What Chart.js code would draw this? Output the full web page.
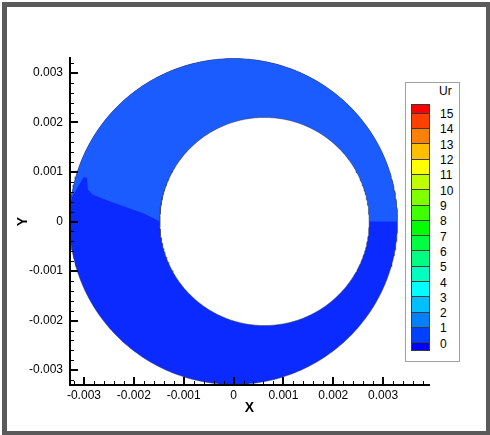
<!DOCTYPE html>
<html>
<head>
<meta charset="utf-8">
<script src="https://cdn.jsdelivr.net/npm/chart.js@4.4.1/dist/chart.umd.min.js"></script>
<style>
  body { margin: 0; background: #fff; font-family: "Liberation Sans", Arial, sans-serif; }
  #marco { position: relative; width: 490px; height: 435px; overflow: hidden; }
  #borde { position: absolute; left: 2px; top: 2px; width: 479px; height: 424px; border: 5px solid #5a5a5a; pointer-events: none; }
  #leyenda { position: absolute; left: 405px; top: 82px; width: 53px; height: 278px; border: 1px solid #a0a0a0; background: #fff; }
  .caja { position: absolute; left: 411px; width: 19px; box-sizing: border-box; border: 1px solid #3a3a3a; }
  .etiqueta { position: absolute; left: 440px; height: 14px; line-height: 14px; font-size: 12px; color: #000; }
</style>
</head>
<body>
<div id="marco">
  <canvas id="chart-anillo"></canvas>
  <div id="leyenda"></div>
  <div id="borde"></div>
</div>
<script>
// Datos: contorno de Ur sobre un anillo excentrico
const nivelesUr = [0, 1, 2, 3, 4, 5, 6, 7, 8, 9, 10, 11, 12, 13, 14, 15];
const coloresNivel = [
  "#0000ff", "#0040ff", "#0080ff", "#00bfff", "#00ffff", "#00ffbf",
  "#00ff80", "#00ff40", "#00ff00", "#40ff00", "#80ff00", "#bfff00",
  "#ffff00", "#ffbf00", "#ff8000", "#ff4000", "#ff0000",
];
const ticksX = [-0.003, -0.002, -0.001, 0, 0.001, 0.002, 0.003];
const ticksY = [-0.003, -0.002, -0.001, 0, 0.001, 0.002, 0.003];

// circulos: [centro x, centro y, radio]
const circuloExterior = [0.0, 0.0, 0.00329];
const circuloInterior = [0.00062, 0.0, 0.0021];

// frontera entre las dos zonas de color (del borde exterior al interior)
const fronteraX = [-0.00326, -0.00304, -0.0030, -0.00294, -0.00292, -0.00282, -0.00246, -0.00212, -0.0018, -0.00148];
const fronteraY = [0.00046, 0.00084, 0.0009, 0.00088, 0.00064, 0.00054, 0.0004, 0.00028, 0.00016, 0.0];

const colorZonaBaja = "#0a2aff";
const colorZonaAlta = "#1a5cff";

const arco = (c, a0, a1) => {
  const pts = [];
  const n = Math.max(2, Math.ceil(Math.abs(a1 - a0) / (Math.PI / 180)));
  for (let i = 0; i <= n; i++) {
    const a = a0 + ((a1 - a0) * i) / n;
    pts.push({ x: c[0] + c[2] * Math.cos(a), y: c[1] + c[2] * Math.sin(a) });
  }
  return pts;
};

const anguloDe = (c, x, y) => Math.atan2(y - c[1], x - c[0]);

// zona superior (color mas claro)
const ultimo = fronteraX.length - 1;
const zonaAlta = [
  ...arco(circuloExterior, 0, anguloDe(circuloExterior, fronteraX[0], fronteraY[0])),
  ...fronteraX.map((x, i) => ({ x, y: fronteraY[i] })),
  ...arco(circuloInterior, anguloDe(circuloInterior, fronteraX[ultimo], fronteraY[ultimo]), 0),
];

const discoExterior = arco(circuloExterior, 0, 2 * Math.PI);
const discoInterior = arco(circuloInterior, 0, 2 * Math.PI);

// marcas hacia dentro (mayores cada 0.001, menores cada 0.0002)
const marcasInternas = {
  id: "marcasInternas",
  afterDatasetsDraw(chart) {
    const ctx = chart.ctx;
    const { left, bottom } = chart.chartArea;
    const sx = chart.scales.x;
    const sy = chart.scales.y;
    const paso = 0.0002;
    ctx.save();
    ctx.strokeStyle = "#000";
    for (let k = Math.ceil(sx.min / paso - 1e-6); k <= Math.floor(sx.max / paso + 1e-6); k++) {
      const mayor = k % 5 === 0;
      const px = Math.round(sx.getPixelForValue(k * paso)) + (mayor ? 0 : 0.5);
      ctx.lineWidth = mayor ? 2 : 1;
      ctx.beginPath();
      ctx.moveTo(px, bottom);
      ctx.lineTo(px, bottom - (mayor ? 8 : 4));
      ctx.stroke();
    }
    for (let k = Math.ceil(sy.min / paso - 1e-6); k <= Math.floor(sy.max / paso + 1e-6); k++) {
      const mayor = k % 5 === 0;
      const py = Math.round(sy.getPixelForValue(k * paso)) + (mayor ? 0 : 0.5);
      ctx.lineWidth = mayor ? 2 : 1;
      ctx.beginPath();
      ctx.moveTo(left, py);
      ctx.lineTo(left + (mayor ? 8 : 4), py);
      ctx.stroke();
    }
    ctx.restore();
  },
};

Chart.defaults.font.family = '"Liberation Sans", Arial, sans-serif';
Chart.defaults.font.size = 12;
Chart.defaults.color = "#000";

const etiqueta = (v) => String(Number(v.toFixed(4)));

const configuracion = {
  type: "scatter",
  data: {
    datasets: [
      {
        data: discoExterior,
        showLine: true,
        pointRadius: 0,
        borderColor: "rgba(60,60,60,0.45)",
        borderWidth: 1,
        fill: false,
      },
      {
        data: discoInterior,
        showLine: true,
        pointRadius: 0,
        borderColor: "rgba(60,60,60,0.5)",
        borderWidth: 1,
        backgroundColor: "#ffffff",
        fill: "shape",
      },
      {
        data: zonaAlta,
        showLine: true,
        pointRadius: 0,
        borderWidth: 0,
        borderColor: colorZonaAlta,
        backgroundColor: colorZonaAlta,
        fill: "shape",
      },
      {
        data: discoExterior,
        showLine: true,
        pointRadius: 0,
        borderWidth: 0,
        borderColor: colorZonaBaja,
        backgroundColor: colorZonaBaja,
        fill: "shape",
      },
    ],
  },
  options: {
    responsive: false,
    animation: false,
    layout: { padding: { left: 0, top: 58, right: 61, bottom: 0 } },
    plugins: { legend: { display: false }, tooltip: { enabled: false } },
    scales: {
      x: {
        type: "linear",
        min: -0.00328,
        max: 0.00392,
        grid: { display: false, drawTicks: false },
        border: { display: true, color: "#000", width: 2, z: 1 },
        afterBuildTicks: (s) => { s.ticks = ticksX.map((v) => ({ value: v })); },
        afterFit: (s) => { s.height = 50; },
        ticks: { padding: 3, autoSkip: false, maxRotation: 0, callback: etiqueta },
        title: { display: true, text: "X", font: { size: 14, weight: "bold" }, padding: { top: 0, bottom: 18 } },
      },
      y: {
        type: "linear",
        min: -0.0033,
        max: 0.0033,
        grid: { display: false, drawTicks: false },
        border: { display: true, color: "#000", width: 2, z: 1 },
        afterBuildTicks: (s) => { s.ticks = ticksY.map((v) => ({ value: v })); },
        afterFit: (s) => { s.width = 70; },
        ticks: { padding: 7, autoSkip: false, callback: etiqueta },
        title: { display: true, text: "Y", font: { size: 14, weight: "bold" }, padding: { top: 15, bottom: 0 } },
      },
    },
  },
  plugins: [marcasInternas],
};

const lienzo = document.querySelector("#chart-anillo");
lienzo.width = 490;
lienzo.height = 435;
const chartAnillo = new Chart(lienzo.getContext("2d"), configuracion);

// leyenda de niveles (Ur)
const marco = document.querySelector("#marco");
const titulo = document.createElement("div");
titulo.className = "etiqueta";
titulo.textContent = "Ur";
titulo.style.top = "84px";
titulo.style.left = "439px";
marco.appendChild(titulo);

const yNivel0 = 342.3;
const altoNivel = 15.31;
const yDe = (nivel) => yNivel0 - nivel * altoNivel;
const maxNivel = nivelesUr[nivelesUr.length - 1];
const bordes = [yDe(maxNivel) - 8.6, ...nivelesUr.slice().reverse().map(yDe), yNivel0 + 8];
for (let i = 0; i < bordes.length - 1; i++) {
  const caja = document.createElement("div");
  caja.className = "caja";
  const t = Math.round(bordes[i]);
  const b = Math.round(bordes[i + 1]);
  caja.style.top = t + "px";
  caja.style.height = b - t + 1 + "px";
  caja.style.background = coloresNivel[coloresNivel.length - 1 - i];
  marco.appendChild(caja);
}
nivelesUr.forEach((n) => {
  const e = document.createElement("div");
  e.className = "etiqueta";
  e.textContent = n;
  e.style.top = yDe(n) + 1.5 - 7 + "px";
  marco.appendChild(e);
});
</script>
</body>
</html>
